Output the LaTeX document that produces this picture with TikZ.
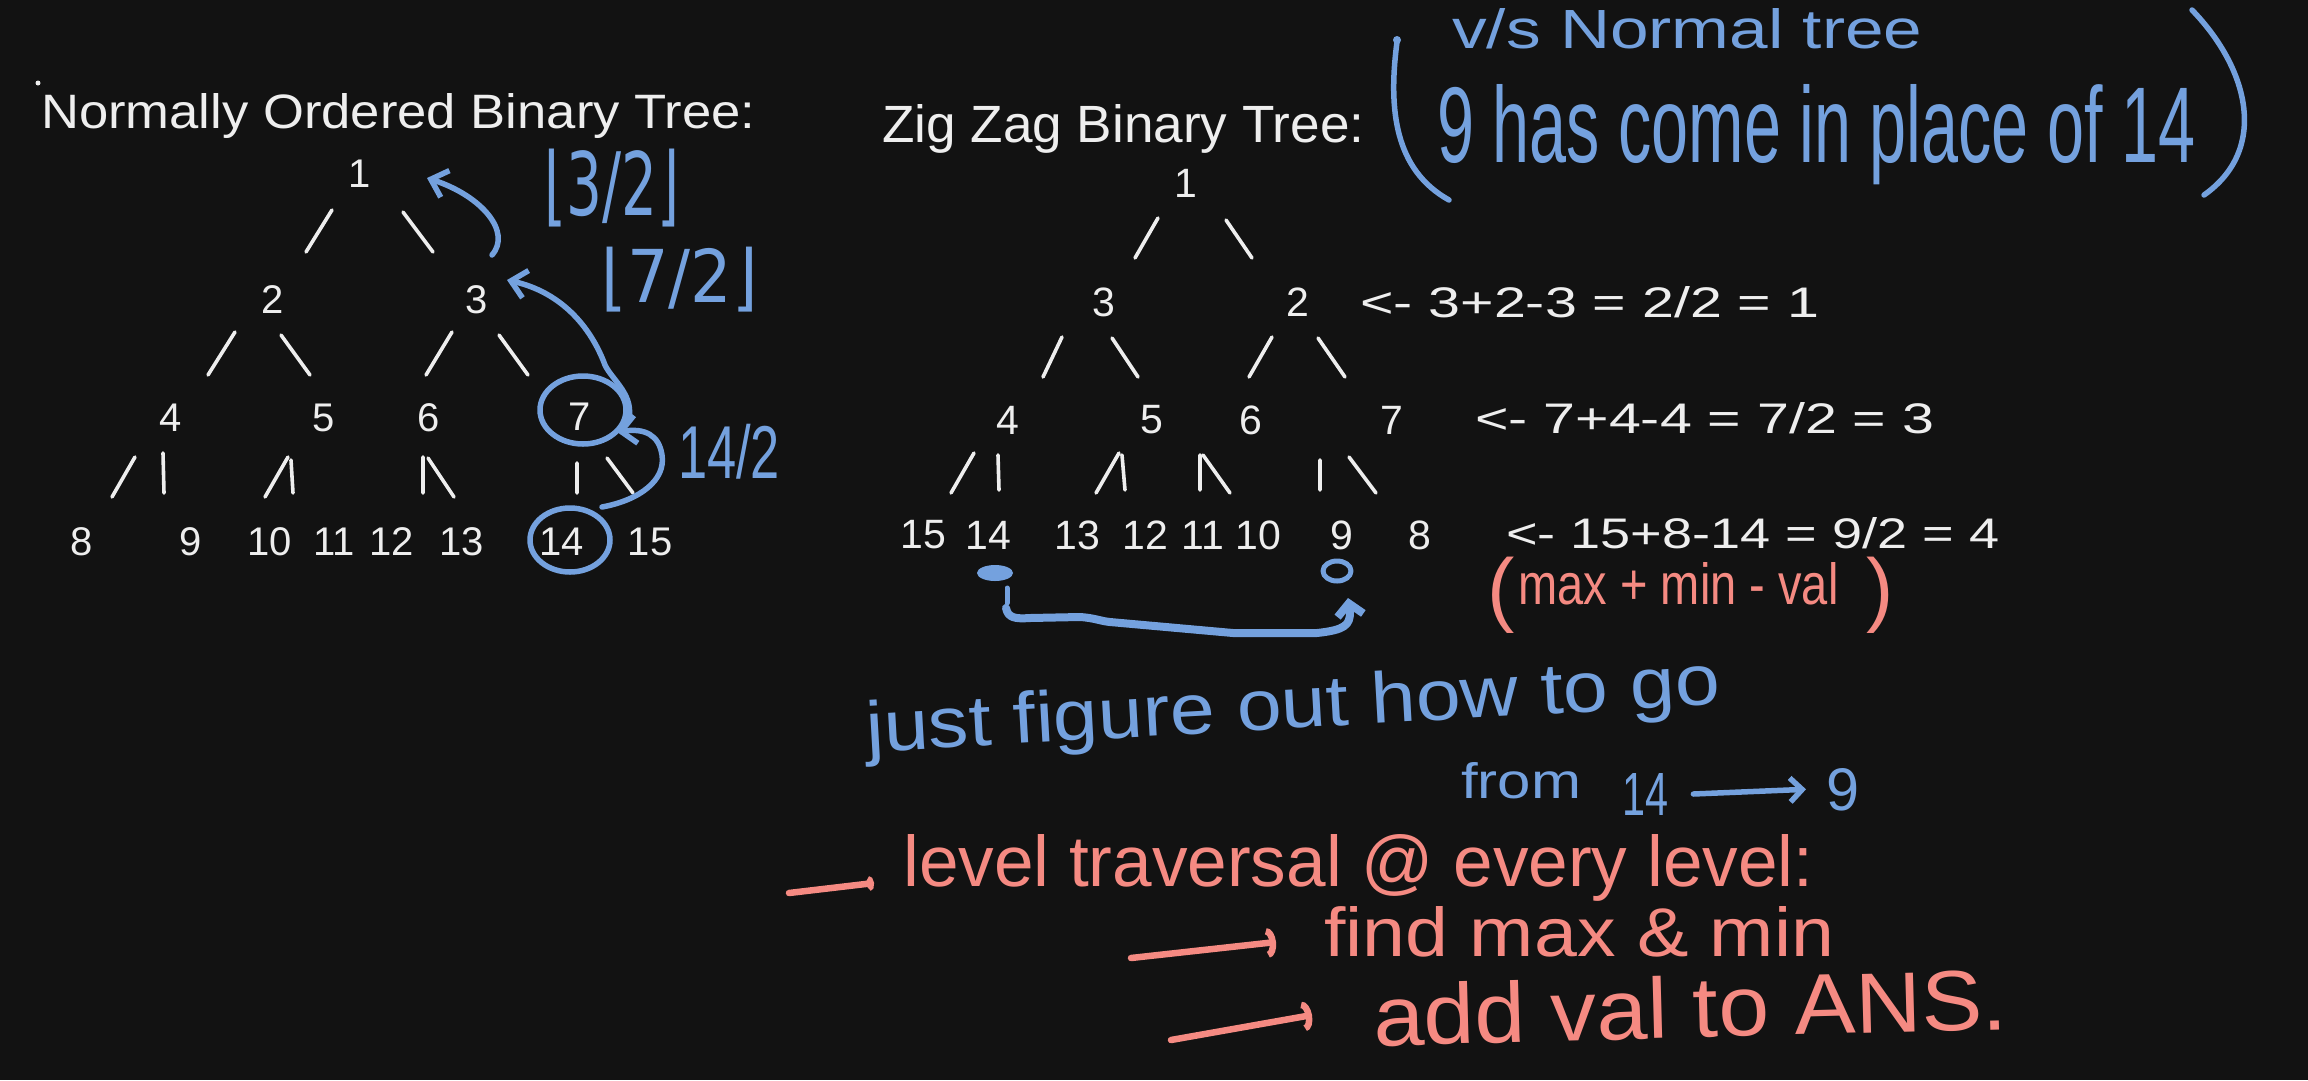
\documentclass[tikz,border=0pt]{standalone}
\usepackage{fontspec}
\setmainfont{Liberation Sans}
\newfontfamily\dvfont{DejaVu Sans}
\usepackage{graphicx}
\usetikzlibrary{arrows.meta}
\definecolor{bgc}{HTML}{121212}
\definecolor{wtc}{HTML}{EEEEEE}
\definecolor{blc}{HTML}{74A1DE}
\definecolor{rdc}{HTML}{F58A82}
\newcommand{\hwtext}[3]{\resizebox{#1pt}{#2pt}{#3}}
\newcommand{\hwtot}[3]{\resizebox*{#1pt}{#2pt}{#3}}
\begin{document}
\begin{tikzpicture}[x=1pt, y=-1pt,
  num/.style={text=wtc, inner sep=0pt, font=\fontsize{40}{40}\selectfont},
  rnum/.style={text=wtc, inner sep=0pt, font=\fontsize{41}{41}\selectfont},
  wline/.style={draw=wtc, line width=3.6pt, line cap=round},
  bline/.style={draw=blc, line width=5.5pt, line cap=round, line join=round},
  rline/.style={draw=rdc, line width=6.5pt, line cap=round, line join=round},
  btip/.style={-{Straight Barb[length=15pt,width=28pt]}},
  rtip/.style={-{Arc Barb[length=9pt,width=30pt]}},
  wtxt/.style={text=wtc, inner sep=0pt, anchor=base west},
  btxt/.style={text=blc, inner sep=0pt, anchor=base west},
  rtxt/.style={text=rdc, inner sep=0pt, anchor=base west},
  ctxt/.style={inner sep=0pt}
]
\fill[bgc] (0,0) rectangle (2308,1080);
\useasboundingbox (0,0) rectangle (2308,1080);

% ---------------- left tree ----------------
\fill[wtc] (38,83) circle (2.5pt);
\node[wtxt] (ttl1) at (41,128) {\hwtext{714}{35}{Normally Ordered Binary Tree:}};

\node[num] (a1) at (360,174) {1};
\node[num] (a2) at (273,300) {2};
\node[num] (a3) at (477,300) {3};
\node[num] (a4) at (171,418) {4};
\node[num] (a5) at (324,418) {5};
\node[num] (a6) at (429,418) {6};
\node[num] (a7) at (580,417) {7};
\node[num] (a8) at (82,542) {8};
\node[num] (a9) at (191,542) {9};
\node[num] (a10) at (270,542) {10};
\node[num] (a11) at (334,542) {11};
\node[num] (a12) at (392,542) {12};
\node[num] (a13) at (462,542) {13};
\node[num] (a14) at (562,542) {14};
\node[num] (a15) at (650,542) {15};

\draw[wline] (332,210) -- (306,252)  (403,212) -- (433,252)
  (235,332) -- (208,375)  (281,335) -- (310,375)
  (452,332) -- (426,375)  (499,335) -- (528,375)
  (135,457) -- (112,497)  (163,453) -- (164,493)
  (288,457) -- (265,497)  (291,460) -- (293,493)
  (423,457) -- (423,493)  (428,458) -- (454,497)
  (577,463) -- (577,493)  (607,458) -- (633,493);

% blue annotations left
\draw[bline] (583,410) ellipse [x radius=43pt, y radius=34pt];
\draw[bline] (570,540) ellipse [x radius=40pt, y radius=32pt];
\draw[bline, btip] (628,422) .. controls (636,396) and (612,380) .. (605,365)
  .. controls (590,325) and (560,292) .. (507,280);
\draw[bline, btip] (492,255) .. controls (512,232) and (482,196) .. (427,178);
\draw[bline, btip] (602,507) .. controls (640,500) and (666,480) .. (662,455)
  .. controls (659,435) and (645,428) .. (617,432);
\node[ctxt, text=blc] (f32) at (612,188) {\hwtot{135}{78}{\dvfont ⌊3/2⌋}};
\node[ctxt, text=blc] (f72) at (680,280) {\hwtot{156}{65}{\dvfont ⌊7/2⌋}};
\node[ctxt, text=blc] (h142) at (729,452) {\hwtot{102}{55}{14/2}};

% ---------------- right tree ----------------
\node[wtxt] (ttl2) at (882,142) {\hwtext{482}{38}{Zig Zag Binary Tree:}};

\node[rnum] (b1) at (1186,183) {1};
\node[rnum] (b3) at (1104,302) {3};
\node[rnum] (b2) at (1298,302) {2};
\node[rnum] (b4) at (1008,420) {4};
\node[rnum] (b5) at (1152,420) {5};
\node[rnum] (b6) at (1251,420) {6};
\node[rnum] (b7) at (1392,420) {7};
\node[rnum] (b15) at (923,535) {15};
\node[rnum] (b14) at (988,535) {14};
\node[rnum] (b13) at (1077,535) {13};
\node[rnum] (b12) at (1145,535) {12};
\node[rnum] (b11) at (1203,535) {11};
\node[rnum] (b10) at (1258,535) {10};
\node[rnum] (b9) at (1342,535) {9};
\node[rnum] (b8) at (1420,535) {8};

\draw[wline] (1158,218) -- (1135,258)  (1226,220) -- (1252,258)
  (1062,337) -- (1043,377)  (1112,338) -- (1138,377)
  (1272,337) -- (1249,377)  (1318,338) -- (1345,377)
  (974,453) -- (951,493)  (998,455) -- (999,490)
  (1119,453) -- (1096,493)  (1122,455) -- (1125,490)
  (1200,455) -- (1200,490)  (1203,455) -- (1230,493)
  (1320,460) -- (1320,490)  (1349,457) -- (1376,493);

\node[wtxt] (eq1) at (1360,317) {\hwtext{459}{31}{<- 3+2-3 = 2/2 = 1}};
\node[wtxt] (eq2) at (1475,433) {\hwtext{459}{31}{<- 7+4-4 = 7/2 = 3}};
\node[wtxt] (eq3) at (1506,548) {\hwtext{493}{31}{<- 15+8-14 = 9/2 = 4}};

% blue top note
\node[btxt] (vs) at (1452,48) {\hwtext{470}{40}{v/s Normal tree}};
\node[btxt] (nine) at (1437,162) {\hwtext{758}{78}{9 has come in place of 14}};
\fill[blc] (1397,40) circle (4pt);
\draw[bline] (1397,42) .. controls (1388,110) and (1395,170) .. (1449,200);
\draw[bline] (2192,10) .. controls (2250,70) and (2268,150) .. (2204,195);

% blue link 14 -> 9
\fill[blc] (995,573) ellipse [x radius=18pt, y radius=8pt];
\draw[blc, line width=5pt, line cap=round] (1007,588) -- (1007,603);
\draw[bline, line width=5pt] (1337,571) ellipse [x radius=14pt, y radius=10pt];
\draw[bline, line width=8pt, -{Straight Barb[length=12pt,width=26pt]}]
  (1006,608) .. controls (1008,618) and (1015,619) .. (1030,618) -- (1080,617)
  .. controls (1095,618) and (1100,621) .. (1110,622) -- (1233,633) -- (1317,633)
  .. controls (1345,630) and (1350,625) .. (1350,612) -- (1348,598);

% red formula
\node[rtxt] (mm) at (1487,604) {\raisebox{-12pt}{\fontsize{82}{82}\selectfont(}\hspace{4pt}\hwtext{320}{42}{max + min - val}\hspace{28pt}\raisebox{-12pt}{\fontsize{82}{82}\selectfont)}};

% blue bottom text
\node[btxt, rotate=3.2] (jf) at (867,752) {\hwtext{855}{52}{just figure out how to go}};
\node[btxt] (from) at (1461,798) {\hwtext{120}{36}{from}};
\node[btxt] (f14) at (1622,815) {\hwtext{46}{42}{14}};
\node[btxt] (f9) at (1826,810) {\hwtext{33}{42}{9}};
\draw[bline, -{Straight Barb[length=12pt,width=24pt]}] ([xshift=25pt]f14.east) -- ([xshift=-20pt]f9.west);

% red notes
\draw[rline, -{Arc Barb[length=6pt,width=16pt]}] (789,893) -- (874,883);
\node[rtxt] (lt) at (903,886) {\hwtext{910}{52}{level traversal @ every level:}};
\draw[rline, rtip] (1131,958) -- (1276,942);
\node[rtxt] (fm) at (1324,956) {\hwtext{510}{50}{find max \& min}};
\draw[rline, rtip] (1171,1040) -- (1312,1015);
\node[rtxt, rotate=1.5] (av) at (1374,1046) {\hwtext{634}{62}{add val to ANS.}};
\end{tikzpicture}
\end{document}
